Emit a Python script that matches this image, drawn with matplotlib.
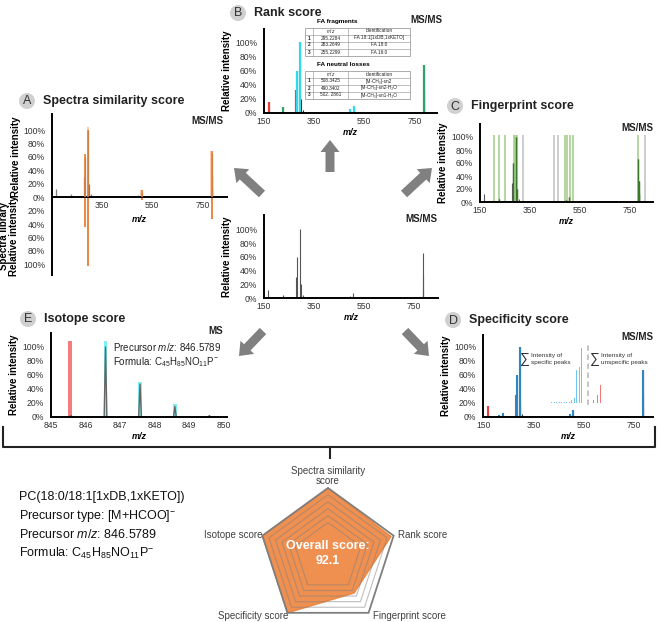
import numpy as np
import matplotlib.pyplot as plt
from matplotlib.patches import Circle, FancyArrow, Polygon, Rectangle

plt.rcParams['font.family'] = ['Liberation Sans', 'DejaVu Sans']
plt.rcParams['mathtext.fontset'] = 'custom'
plt.rcParams['mathtext.rm'] = 'Liberation Sans'
plt.rcParams['mathtext.it'] = 'Liberation Sans:italic'
plt.rcParams['mathtext.bf'] = 'Liberation Sans:bold'

# ---------------- data ----------------
# query MS/MS spectrum (centre panel)
ms2_mz = [168.0, 190.1, 212.0, 225.1, 241.0, 248.0, 278.2, 283.3, 295.2, 297.2, 305.1,
          330.2, 420.3, 494.3, 508.3, 600.4, 700.5, 786.6, 787.6, 788.6]
ms2_int = [12, 1, 1, 4, 1, 1, 30, 60, 100, 20, 4, 1, 1, 3, 8, 1, 1, 66, 33, 12]

# A: spectra similarity
a_match_mz = [283.3, 295.2, 508.3, 786.6]
a_match_int = [64, 105, 10, 69]
a_lib_int = [45, 103, 4, 33]

# B: rank score
b_red_mz = [168.0, 278.2]
b_red_int = [15, 32]
b_green_mz = [225.1, 786.6]
b_green_int = [8, 68]
b_cyan_mz = [283.3, 295.2, 494.3, 508.3]
b_cyan_int = [60, 100, 5, 10]
table_header = ['', '$m/z$', 'identification']
frag_rows = [['1', '295.2284', 'FA 18:1[1xDB,1xKETO]'],
             ['2', '283.2649', 'FA 18:0'],
             ['3', '255.2299', 'FA 16:0']]
loss_rows = [['1', '508.3425', '[M-CH\u2083]-sn2'],
             ['2', '490.3402', '[M-CH\u2083]-sn2-H\u2082O'],
             ['3', '502. 2861', '[M-CH\u2083]-sn1-H\u2082O']]

# C: fingerprint score
c_green_bands = [208, 228, 252, 286, 292, 299, 490, 499, 512, 523, 786]
c_gray_bands = [323, 448, 463, 812]

# D: specificity score
d_red_mz = [168.0, 278.2]
d_red_int = [15, 32]
d_blue_mz = [212.0, 228.0, 248.0, 283.3, 295.2, 494.3, 508.3, 786.6]
d_blue_int = [3, 5, 2, 60, 100, 4, 10, 67]
d_spec_x = [422, 432, 442, 452, 462, 472, 482, 492, 502, 512, 522, 532, 542]
d_spec_int = [22, 22, 22, 22, 22, 22, 22, 22, 24, 27, 67, 72, 98]
d_unspec_x = [591, 604, 618]
d_unspec_int = [24, 32, 45]

# E: isotope score
e_mz = [845.58, 846.58, 847.58, 848.59, 849.59]
e_int = [2, 100, 47, 15, 2]
e_theo_mz = [846.58, 847.58, 848.59]
e_theo_int = [108, 50, 18]
e_miss_mz = [845.55]
e_miss_int = [108]
e_ticks = [845, 846, 847, 848, 849, 850]

# radar
radar_labels = ['Spectra similarity\nscore', 'Rank score', 'Fingerprint score',
                'Specificity score', 'Isotope score']
radar_values = [1.0, 0.96, 0.645, 1.0, 1.0]
overall_score = 92.1

info_lines = ['PC(18:0/18:1[1xDB,1xKETO])',
              'Precursor type: [M+HCOO]$^{-}$',
              'Precursor $m/z$: 846.5789',
              'Formula: C$_{45}$H$_{85}$NO$_{11}$P$^{-}$']

W, H = 660, 622
fig = plt.figure(figsize=(6.6, 6.22), dpi=100)
pct = [0, 20, 40, 60, 80, 100]
mz_ticks = [150, 350, 550, 750]
TXT = '#333333'


def spec_axes(l, t, r, b, xlim, ylim, xticks=mz_ticks):
    ax = fig.add_axes([l / W, 1 - b / H, (r - l) / W, (b - t) / H])
    ax.set_facecolor('none')
    ax.spines[['top', 'right']].set_visible(False)
    ax.spines[['left', 'bottom']].set_linewidth(1.4)
    ax.tick_params(length=0, labelsize=6.2, labelcolor=TXT)
    ax.tick_params(axis='y', pad=5)
    ax.tick_params(axis='x', pad=3)
    ax.set_yticks(pct)
    ax.set_yticklabels([f'{v}%' for v in pct])
    ax.set_xticks(xticks)
    ax.set_xlim(xlim)
    ax.set_ylim(ylim)
    return ax


def labels(ax, xlab=True):
    ax.set_ylabel('Relative intensity', fontsize=7, fontweight='bold', labelpad=2)
    if xlab:
        ax.set_xlabel('m/z', fontsize=6.5, fontweight='bold', fontstyle='italic', labelpad=1)


def base_peaks(ax, color='#555555', lw=0.8):
    ax.vlines(ms2_mz, 0, ms2_int, colors=color, lw=lw)


# ---- centre ----
ax = spec_axes(264, 215, 438, 298, (150, 848), (0, 121))
base_peaks(ax)
labels(ax)

# ---- A ----
ax = spec_axes(52, 114, 227, 275, (151, 848), (-116, 124), xticks=[350, 550, 750])
ax.spines['bottom'].set_position(('data', 0))
ax.bar(a_match_mz, a_match_int, width=10, color='#F8CBAD', zorder=1)
base_peaks(ax, '#808080', 0.9)
ax.vlines(a_match_mz, 0, [min(v, 100) for v in a_match_int], colors='#ED7D31', lw=1.1, zorder=3)
ax.vlines(a_match_mz, 0, [-v for v in a_lib_int], colors='#ED7D31', lw=1.3)
ticks_a = [-100, -80, -60, -40, -20, 0, 20, 40, 60, 80, 100]
ax.set_yticks(ticks_a)
ax.set_yticklabels([f'{abs(v)}%' for v in ticks_a])
ax.set_ylim(-116, 124)
ax.text(500, -34, 'm/z', fontsize=6.5, fontweight='bold', fontstyle='italic',
        ha='center', va='center')

# ---- B ----
ax = spec_axes(264, 29, 437, 113, (150, 840), (0, 119))
base_peaks(ax, '#222222', 0.8)
ax.vlines(b_red_mz, 0, b_red_int, colors='#E8403F', lw=1.6)
ax.vlines(b_green_mz, 0, b_green_int, colors='#2FA36B', lw=1.6)
ax.vlines(b_cyan_mz, 0, b_cyan_int, colors='#2FD9E8', lw=1.6)
labels(ax)

# ---- C ----
ax = spec_axes(480, 124, 653, 202, (150, 845), (0, 120))
ax.bar(c_green_bands, 103, width=8, color='#A9D18E', alpha=0.85, zorder=0)
ax.bar(c_gray_bands, 103, width=8, color='#C9C9C9', alpha=0.9, zorder=0)
base_peaks(ax, '#595959', 0.8)
hit = [(m, v) for m, v in zip(ms2_mz, ms2_int)
       if min(abs(m - g) for g in c_green_bands) < 5]
ax.vlines([h[0] for h in hit], 0, [h[1] for h in hit], colors='#3B7A25', lw=1.0)
labels(ax)

# ---- D ----
ax = spec_axes(483, 335, 653, 417, (147, 828), (0, 117))
base_peaks(ax, '#333333', 0.8)
ax.vlines(d_red_mz, 0, d_red_int, colors='#E8403F', lw=1.5)
ax.vlines(d_blue_mz, 0, d_blue_int, colors='#2E86C1', lw=1.5)
ax.bar(d_spec_x, [v - 20 for v in d_spec_int], width=4, bottom=20, color='#6CC8F2')
ax.bar(d_unspec_x, [v - 20 for v in d_unspec_int], width=4, bottom=20, color='#F4777A')
ax.vlines([568], 17, 103, colors='#BFBFBF', lw=1.3, linestyles=(0, (3, 2)))
labels(ax)

# ---- E ----
ax = spec_axes(51, 333, 227, 417, (845, 850.1), (0, 120), xticks=e_ticks)
ax.bar(e_miss_mz, e_miss_int, width=0.12, color='#F47C7C')
ax.bar(e_theo_mz, e_theo_int, width=0.1, color='#7CF0F5')
for m, v in zip(e_mz, e_int):
    ax.plot([m - 0.04, m, m + 0.04], [0, v, 0], color='#666666', lw=1.0)
ax.set_xlim(845, 850.1)
labels(ax)

# ---------------- overlay in pixel coordinates ----------------
ov = fig.add_axes([0, 0, 1, 1], zorder=10)
ov.set_xlim(0, W)
ov.set_ylim(H, 0)
ov.axis('off')
ov.set_facecolor('none')

titles = [('A', 27, 101, 'Spectra similarity score'),
          ('B', 238, 13, 'Rank score'),
          ('C', 455, 106, 'Fingerprint score'),
          ('D', 453, 320, 'Specificity score'),
          ('E', 28, 319, 'Isotope score')]
for letter, x, y, name in titles:
    ov.add_patch(Circle((x, y), 8, color='#D0D0D0', lw=0))
    ov.text(x, y + 0.5, letter, fontsize=9, color=TXT, ha='center', va='center')
    ov.text(x + 16, y, name, fontsize=9, fontweight='bold', color='#222222',
            ha='left', va='center')

for txt, x, y in [('MS/MS', 223, 121), ('MS/MS', 442, 20), ('MS/MS', 653, 128),
                  ('MS/MS', 437, 219), ('MS/MS', 653, 337), ('MS', 223, 331)]:
    ov.text(x, y, txt, fontsize=7, fontweight='bold', color='#222222', ha='right', va='center')

# A y labels
ov.text(16, 157, 'Relative intensity', fontsize=7, fontweight='bold', rotation=90,
        ha='center', va='center')
ov.text(9, 236, 'Spectra library\nRelative intensity', fontsize=7, fontweight='bold',
        rotation=90, ha='center', va='center', linespacing=1.0)


# B tables
def draw_table(x_edges, top, row_h, rows):
    n = len(rows) + 1
    ov.add_patch(Rectangle((x_edges[0], top), x_edges[-1] - x_edges[0], n * row_h,
                           fc='white', ec='#8C8C8C', lw=0.5))
    for i in range(1, n):
        ov.plot([x_edges[0], x_edges[-1]], [top + i * row_h] * 2, color='#8C8C8C', lw=0.4)
    for x in x_edges[1:-1]:
        ov.plot([x, x], [top, top + n * row_h], color='#8C8C8C', lw=0.4)
    for i, row in enumerate([table_header] + rows):
        for j, cell in enumerate(row):
            ov.text((x_edges[j] + x_edges[j + 1]) / 2, top + (i + 0.5) * row_h, cell,
                    fontsize=3.4, ha='center', va='center', color='#222222',
                    fontweight='bold' if j == 0 else 'normal')


ov.text(317, 22, 'FA fragments', fontsize=4.6, fontweight='bold', ha='left', va='center')
draw_table([305, 313, 348, 410], 27.5, 7, frag_rows)
ov.text(317, 65, 'FA neutral losses', fontsize=4.6, fontweight='bold', ha='left', va='center')
draw_table([305, 313, 348, 410], 70.5, 7, loss_rows)

# D annotations
ov.text(525, 359, '\u2211', fontsize=10, ha='center', va='center', color='#333333')
ov.text(531, 359, 'Intensity of\nspecific peaks', fontsize=4.6, ha='left', va='center',
        linespacing=1.3, color='#333333')
ov.text(595, 359, '\u2211', fontsize=10, ha='center', va='center', color='#333333')
ov.text(601, 359, 'Intensity of\nunspecific peaks', fontsize=4.6, ha='left', va='center',
        linespacing=1.3, color='#333333')

# E annotations
ov.text(113, 347, 'Precursor $m/z$: 846.5789', fontsize=7, ha='left', va='center', color='#222222')
ov.text(113, 362, 'Formula: C$_{45}$H$_{85}$NO$_{11}$P$^{-}$', fontsize=7, ha='left',
        va='center', color='#222222')

# arrows
arrow_kw = dict(width=9, head_width=19, head_length=12, length_includes_head=True,
                color='#808080', lw=0)
for x0, y0, x1, y1 in [(262, 194, 234, 168), (404, 194, 432, 168), (330, 172, 330, 140),
                       (263, 331, 239, 356), (405, 331, 429, 356)]:
    ov.add_patch(FancyArrow(x0, y0, x1 - x0, y1 - y0, **arrow_kw))

# bracket
ov.plot([3, 3, 655, 655], [427, 447, 447, 427], color='#222222', lw=1.5)
ov.plot([330, 330], [447, 458], color='#222222', lw=1.5)

# info block
for i, line in enumerate(info_lines):
    ov.text(19, 497 + 18.7 * i, line, fontsize=9, ha='left', va='center', color='#111111')

# radar chart
cx, cy, R = 328, 557, 69
ang = np.deg2rad(90 - 72 * np.arange(5))


def pent(r):
    r = np.broadcast_to(np.asarray(r, float), (5,))
    return np.column_stack([cx + R * r * np.cos(ang), cy - R * r * np.sin(ang)])


ov.add_patch(Polygon(pent(radar_values), closed=True, fc='#ED7D31', ec='#ED7D31',
                     alpha=0.85, lw=1))
for lev in [0.5, 0.6, 0.7, 0.8, 0.9]:
    ov.add_patch(Polygon(pent(lev), closed=True, fill=False, ec='#7F7F7F', alpha=0.5, lw=0.8))
ov.add_patch(Polygon(pent(1.0), closed=True, fill=False, ec='#7F7F7F', lw=1.3))

lab_pos = [(328, 486, 'center', 'bottom'), (398, 535, 'left', 'center'),
           (373, 616, 'left', 'center'), (288, 616, 'right', 'center'),
           (262, 535, 'right', 'center')]
for (x, y, ha, va), lab in zip(lab_pos, radar_labels):
    ov.text(x, y, lab, fontsize=7, ha=ha, va=va, color='#404040', linespacing=1.0)
ov.text(cx, 546, 'Overall score:', fontsize=9, fontweight='bold', color='white',
        ha='center', va='center')
ov.text(cx, 561, f'{overall_score}', fontsize=9, fontweight='bold', color='white',
        ha='center', va='center')

fig.savefig('out.png', dpi=100)
